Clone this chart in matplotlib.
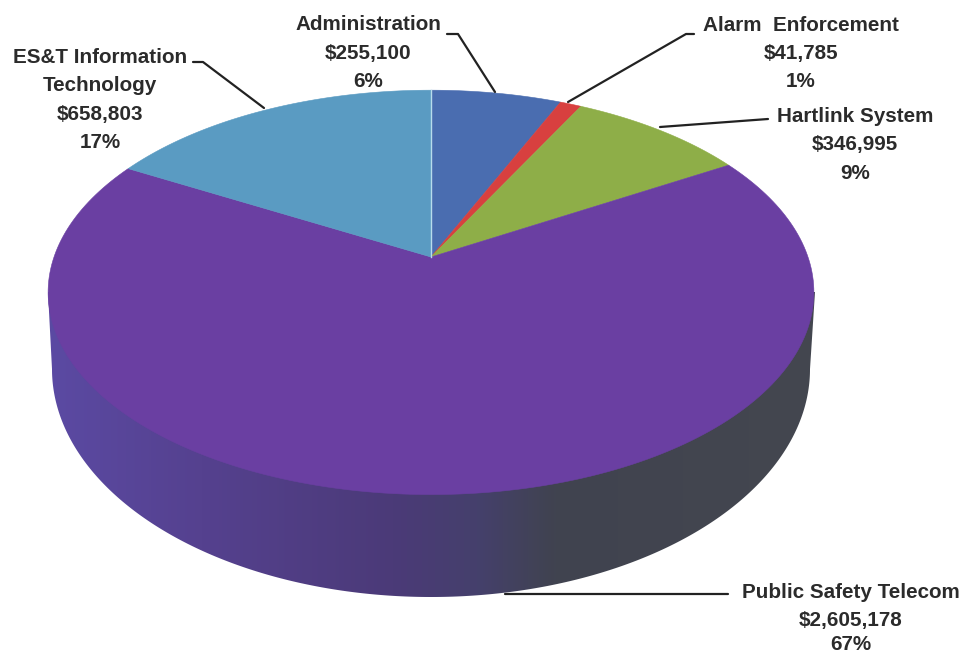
import numpy as np
import matplotlib
matplotlib.use("Agg")
import matplotlib.pyplot as plt
from matplotlib.colors import LinearSegmentedColormap
from matplotlib.patches import Polygon

categories = ["Administration", "Alarm  Enforcement", "Hartlink System",
              "Public Safety Telecom", "ES&T Information\nTechnology"]
values = [255100, 41785, 346995, 2605178, 658803]
percents = ["6%", "1%", "9%", "67%", "17%"]
colors = ["#4a6db0", "#d8403f", "#8eae48", "#6a3fa2", "#5a9bc2"]

W, H = 967, 654
fig = plt.figure(figsize=(W / 100, H / 100), dpi=100)
ax = fig.add_axes([0, 0, 1, 1])
ax.set_xlim(0, W)
ax.set_ylim(H, 0)
ax.axis("off")

# perspective projection of the pie's top disc
CX, CY, A, B, K = 431, 257, 377, 196, 0.175


def project(theta):
    u, v = np.sin(theta), np.cos(theta)
    d = 1 + K * v
    return CX + A * u / d, CY - B * v / d


# side wall: gradient clipped to the lower outline
t = np.linspace(0, np.pi, 300)
lx = 431 + 379 * np.cos(t)
ly = 369 + 228 * np.sin(t)
wall = np.vstack([[815, 292], np.column_stack([lx, ly]), [48, 292]])
side_cmap = LinearSegmentedColormap.from_list("side", [
    (0.00, "#5b4aa3"), (0.20, "#55418f"), (0.45, "#4b3a78"), (0.56, "#45406c"),
    (0.66, "#404350"), (1.00, "#44474f")])
im = ax.imshow(np.linspace(0, 1, 256)[None, :], cmap=side_cmap, aspect="auto",
               extent=(48, 815, 600, 290), zorder=1)
ax.set_xlim(0, W)
ax.set_ylim(H, 0)
clip = Polygon(wall, closed=True, transform=ax.transData, fc="none", ec="none")
ax.add_patch(clip)
im.set_clip_path(clip)

# top disc wedges from the values
fractions = np.array(values) / np.sum(values)
edges = np.r_[0, np.cumsum(fractions)] * 2 * np.pi
for i, color in enumerate(colors):
    th = np.linspace(edges[i], edges[i + 1], 200)
    x, y = project(th)
    ax.fill(np.r_[CX, x], np.r_[CY, y], fc=color, ec=color, lw=0.4, zorder=2)
ax.plot([CX, CX], [CY, 90], color="#b8dcec", lw=1.0, zorder=3)

# labels (baselines)
label_pos = [(368, [30, 59, 87]), (801, [31, 59, 87]), (855, [122, 150, 179]),
             (851, [598, 626, 650]), (100, [63, 91, 120, 148])]
font = dict(family="Liberation Sans", weight="bold", fontsize=14.9,
            color="#2b2b2b", ha="center", va="baseline", zorder=5)
for cat, val, pct, (px, ys) in zip(categories, values, percents, label_pos):
    lines = cat.split("\n") + [f"${val:,}", pct]
    for line, py in zip(lines, ys):
        ax.text(px, py, line, **font)

# leader lines
leaders = [([447, 458, 495], [34, 34, 92]),
           ([694, 686, 568], [34, 34, 102]),
           ([768, 660], [119, 127]),
           ([728, 505], [594, 594]),
           ([193, 203, 264], [62, 62, 108])]
for lx_, ly_ in leaders:
    ax.plot(lx_, ly_, color="#222222", lw=1.6, zorder=4, solid_capstyle="round")

fig.savefig("out.png", dpi=100, facecolor="white")
